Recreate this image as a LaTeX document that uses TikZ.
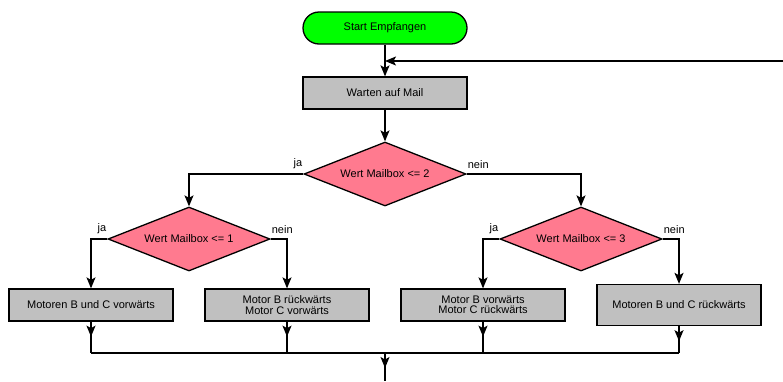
\documentclass[tikz,border=0pt]{standalone}
\usepackage{fontspec}
\setmainfont{Liberation Sans}
\usetikzlibrary{shapes.geometric,arrows.meta}
\definecolor{termgreen}{HTML}{00FF00}
\definecolor{decpink}{HTML}{FF7A8F}
\definecolor{procgray}{HTML}{C0C0C0}
\tikzset{
  every node/.style={font=\fontsize{11}{12.5}\selectfont},
  term/.style={draw, line width=1.3pt, fill=termgreen, rounded corners=16pt,
    minimum width=164pt, minimum height=32pt, inner sep=0pt},
  proc/.style={draw, line width=1.3pt, fill=procgray,
    minimum width=164pt, minimum height=32pt, inner sep=0pt, align=center},
  decision/.style={draw, line width=1.3pt, fill=decpink, shape=diamond, aspect=2.5,
    minimum width=162pt, minimum height=64pt, inner sep=0pt},
  flow/.style={line width=1.3pt},
  arr/.style={line width=1.3pt, -{Stealth[length=11pt,width=9pt,inset=2.5pt]}},
  lbl/.style={inner sep=1pt, yshift=4pt},
}
\begin{document}
\begin{tikzpicture}[x=1pt, y=-1pt]
\useasboundingbox (0,0) rectangle (783,381);

% nodes
\node[term] (start) at (385,28) {Start Empfangen};
\node[proc] (wait) at (385,93) {Warten auf Mail};
\node[decision] (d1) at (385,174) {Wert Mailbox <= 2};
\node[decision] (d2) at (189,239) {Wert Mailbox <= 1};
\node[decision] (d3) at (581,239) {Wert Mailbox <= 3};
\node[proc] (p1) at (91,305) {Motoren B und C vorwärts};
\node[proc] (p2) at (287,305) {Motor B rückwärts\\[-2pt]Motor C vorwärts};
\node[proc] (p3) at (483,305) {Motor B vorwärts\\[-2pt]Motor C rückwärts};
\node[proc, minimum height=41pt] (p4) at (679,305) {Motoren B und C rückwärts};

\coordinate (loop) at (783,61);
\coordinate (mergeL) at (91,353);
\coordinate (mergeR) at (679,353);
\coordinate (mergeC) at (385,353);
\coordinate (exit) at (385,381);

% main column
\draw[arr] (start.south) -- (wait.north);
\draw[arr] (loop) -- (loop -| start.south);
\draw[arr] (wait.south) -- (d1.north);

% first decision
\draw[arr] (d1.west) -| (d2.north);
\draw[arr] (d1.east) -| (d3.north);
\node[lbl, anchor=south east] at (d1.west) {ja};
\node[lbl, anchor=south west] at (d1.east) {nein};

% second level decisions
\draw[arr] (d2.west) -| (p1.north);
\draw[arr] (d2.east) -| (p2.north);
\node[lbl, anchor=south east] at (d2.west) {ja};
\node[lbl, anchor=south west] at (d2.east) {nein};
\draw[arr] (d3.west) -| (p3.north);
\draw[arr] (d3.east) -| (p4.north);
\node[lbl, anchor=south east] at (d3.west) {ja};
\node[lbl, anchor=south west] at (d3.east) {nein};

% outputs merge
\foreach \p in {p1,p2,p3,p4} {
  \draw[flow] (\p.south) -- (\p.south |- mergeC);
  \draw[arr] (\p.south) -- ++(0,15);
}
\draw[flow] (mergeL) -- (mergeR);
\draw[flow] (mergeC) -- (exit);
\draw[arr] (mergeC) -- ++(0,15);
\end{tikzpicture}
\end{document}
